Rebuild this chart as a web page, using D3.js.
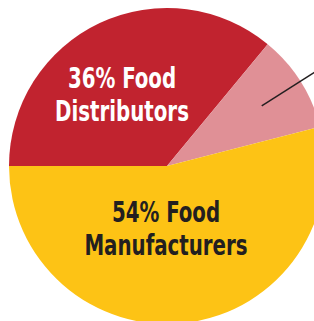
<!DOCTYPE html>
<html>
<head>
<meta charset="utf-8">
<script src="https://cdn.jsdelivr.net/npm/d3@7"></script>
<style>
  body { margin: 0; background: #fff; }
  svg { display: block; }
  text { font-family: "DejaVu Sans Condensed", "DejaVu Sans", sans-serif; font-weight: bold; }
</style>
</head>
<body>
<div class="canvas"></div>
<script>
// slice data
const categories = ['Food Distributors', 'Other', 'Food Manufacturers'];
const shares = [36, 10, 54];
const colors = ['#c1232f', '#e09096', '#fdc315'];
const labelLines = [['36% Food', 'Distributors'], [], ['54% Food', 'Manufacturers']];
const labelColors = ['#ffffff', '#231f20', '#231f20'];

const width = 314;
const height = 321;
const radius = 158;

const svg = d3.select('.canvas')
	.append('svg')
	.attr('width', width)
	.attr('height', height);

const graph = svg.append('g')
	.attr('transform', `translate(167, 166)`);

const data = categories.map((c, i) => ({ name: c, value: shares[i], i }));

const pie = d3.pie()
	.sort(null)
	.value(d => d.value)
	.startAngle(-Math.PI / 2)
	.endAngle(Math.PI * 1.5);

const arc = d3.arc()
	.innerRadius(0)
	.outerRadius(radius);

const arcs = pie(data);

graph.selectAll('path')
	.data(arcs)
	.enter()
	.append('path')
	.attr('d', arc)
	.attr('fill', d => colors[d.data.i]);

// leader line for the small slice (its label is outside the frame)
const small = arcs[1];
const inner = d3.arc().innerRadius(radius * 0.71).outerRadius(radius * 0.71).centroid(small);
graph.append('line')
	.attr('x1', inner[0])
	.attr('y1', inner[1])
	.attr('x2', inner[0] + 200 * Math.cos(-0.567))
	.attr('y2', inner[1] + 200 * Math.sin(-0.567))
	.attr('stroke', '#231f20')
	.attr('stroke-width', 1.5);

// labels (condensed a bit horizontally)
const labelPos = [[-45, -78], null, [-1, 56]];
arcs.forEach((a, i) => {
	if (!labelPos[i]) return;
	labelLines[i].forEach((line, j) => {
		graph.append('g')
			.attr('transform', `translate(${labelPos[i][0]}, ${labelPos[i][1] + j * 32.5}) scale(0.8, 1)`)
			.append('text')
			.attr('text-anchor', 'middle')
			.attr('fill', labelColors[i])
			.attr('font-size', 27.5)
			.text(line);
	});
});
</script>
</body>
</html>
